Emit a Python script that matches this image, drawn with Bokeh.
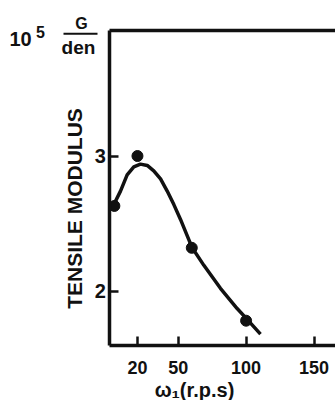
import math
from bokeh.plotting import figure
from bokeh.models import LinearAxis, FixedTicker, Label, BoxAnnotation, Range1d
from bokeh.embed import file_html
from bokeh.resources import INLINE

# data
speed = [3, 20, 60, 100]                 # ω1 (r.p.s)
modulus = [2.63, 3.00, 2.32, 1.78]       # tensile modulus, 10^5 G/den

curve_speed = [1.6, 7.5, 12.4, 17.3, 22.2, 27.2, 32.0, 37.0, 41.9, 46.8, 51.7,
               60.3, 68.9, 81.1, 93.4, 100.8, 110.6]
curve_modulus = [2.62, 2.74, 2.86, 2.92, 2.94, 2.93, 2.89, 2.83, 2.74, 2.64, 2.53,
                 2.32, 2.19, 2.02, 1.87, 1.79, 1.68]

x_ticks = [20, 50, 100, 150]
y_ticks = [2, 3]

FONT = "Liberation Sans"
INK = "#111111"
W, H = 335, 400

# page pixel -> data (used only to place texts and the axes box)
def px_x(px):
    return (px - 109.8) / 1.358

def px_y(py):
    return 3 - (py - 155.5) / 135.0

x0, x1 = px_x(109.3), px_x(W)      # axis extent
y0, y1 = px_y(345), px_y(29.5)

p = figure(width=W, height=H, x_range=Range1d(px_x(0), px_x(W)),
           y_range=Range1d(px_y(H), px_y(0)),
           output_backend="svg", toolbar_location=None,
           min_border_left=0, min_border_right=0, min_border_top=0, min_border_bottom=0)
p.grid.visible = False
p.outline_line_color = None
p.background_fill_color = "white"
p.border_fill_color = "white"

for ax in (p.xaxis[0], p.yaxis[0]):
    ax.axis_line_width = 3.5
    ax.axis_line_color = INK
    ax.major_tick_in = 9
    ax.major_tick_out = 0
    ax.major_tick_line_width = 2.5
    ax.major_tick_line_color = INK
    ax.minor_tick_line_color = None
    ax.major_label_text_font = FONT
    ax.major_label_text_font_style = "bold"
    ax.major_label_text_color = INK

p.xaxis[0].ticker = FixedTicker(ticks=x_ticks)
p.xaxis[0].major_label_text_font_size = "18px"
p.xaxis[0].major_label_standoff = 15
p.xaxis[0].fixed_location = y0
p.xaxis[0].bounds = (x0, x1)
p.yaxis[0].ticker = FixedTicker(ticks=y_ticks)
p.yaxis[0].major_label_text_font_size = "20px"
p.yaxis[0].major_label_standoff = 4
p.yaxis[0].fixed_location = x0
p.yaxis[0].bounds = (y0, y1)

top = LinearAxis(axis_line_width=3.5, axis_line_color=INK, major_tick_line_color=None,
                 minor_tick_line_color=None, major_label_text_font_size="0px",
                 major_label_standoff=0, major_tick_in=0, major_tick_out=0,
                 ticker=FixedTicker(ticks=[]), fixed_location=y1, bounds=(x0, x1))
p.add_layout(top, "above")

p.line(curve_speed, curve_modulus, line_width=3.5, line_color=INK)
p.scatter(speed, modulus, size=11, fill_color=INK, line_color=INK)

def lab(text, px, py, size, align="left", angle=0.0):
    p.add_layout(Label(text=text, x=px_x(px), y=px_y(py), angle=angle,
                       text_font=FONT, text_font_style="bold", text_font_size=size,
                       text_color=INK, text_align=align, text_baseline="middle"))

lab("TENSILE MODULUS", 74, 208, "21px", "center", math.pi / 2)
lab("10", 9.0, 38.0, "20px")
lab("5", 35.5, 31.0, "16px")
lab("G", 81, 22.5, "16px", "center")
lab("den", 78, 46.5, "19px", "center")
lab("ω₁(r.p.s)", 194, 389, "20px", "center")

frac = BoxAnnotation(left=px_x(63), right=px_x(97), top=px_y(32.3), bottom=px_y(34.3),
                     fill_color=INK, fill_alpha=1.0, line_color=None)
p.add_layout(frac)

open("out.html", "w").write(file_html(p, INLINE))
